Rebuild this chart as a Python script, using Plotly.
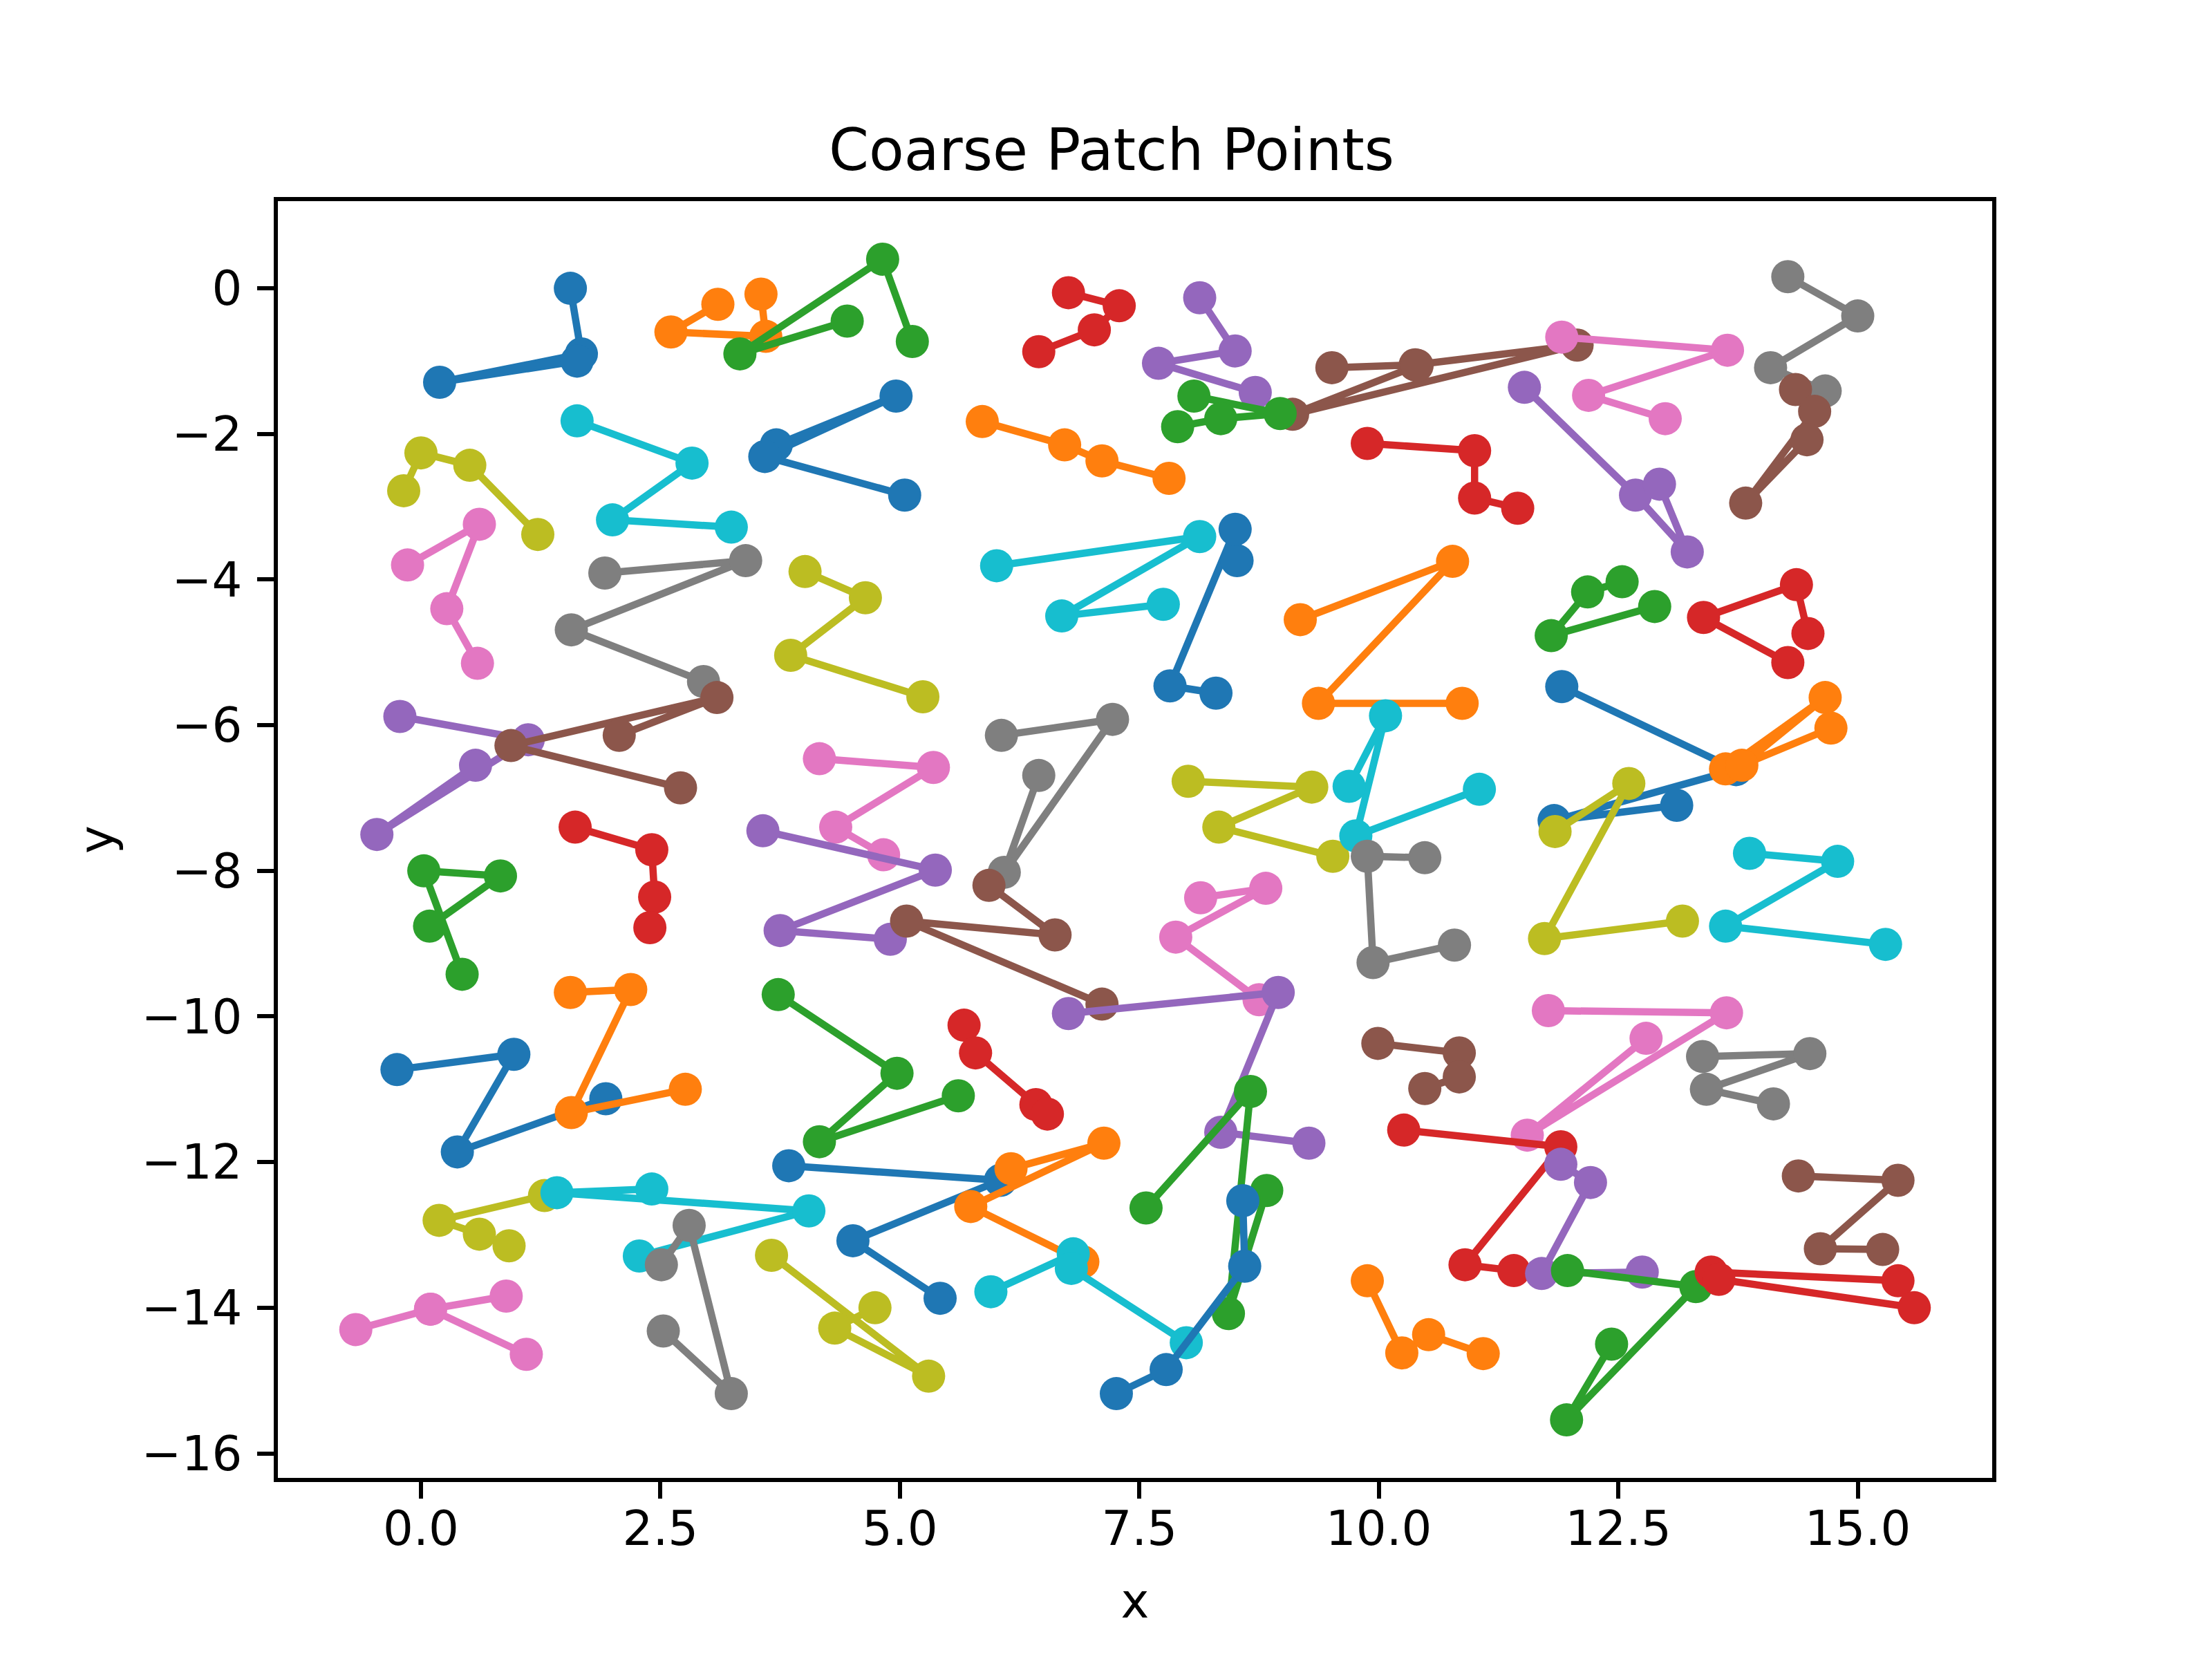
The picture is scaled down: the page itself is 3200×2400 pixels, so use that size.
import plotly.graph_objects as go

# each row of the 8x8 patch grid, one list of points per patch (left to right)
row1_x = [[1.56, 1.675, 0.195, 1.63], [3.10, 2.61, 3.60, 3.55], [5.13, 4.82, 3.33, 4.45],
          [6.76, 7.29, 7.03, 6.45], [8.13, 8.50, 7.70, 8.71], [9.51, 10.38, 12.07, 9.10, 10.40],
          [11.91, 13.64, 12.19, 12.99], [14.27, 15.0, 14.09, 14.66]]
row1_y = [[0.0, -0.90, -1.29, -1.00], [-0.22, -0.60, -0.66, -0.08], [-0.73, 0.40, -0.90, -0.45],
          [-0.06, -0.24, -0.57, -0.87], [-0.13, -0.86, -1.03, -1.43], [-1.09, -1.05, -0.78, -1.73, -1.06],
          [-0.67, -0.85, -1.47, -1.79], [0.16, -0.38, -1.09, -1.41]]

row2_x = [[-0.18, 0.0, 0.51, 1.22], [1.63, 2.83, 2.0, 3.24], [3.71, 4.96, 3.59, 5.05],
          [5.86, 6.72, 7.11, 7.81], [8.07, 8.97, 8.35, 7.90], [9.88, 11.0, 11.0, 11.45],
          [11.52, 12.68, 13.22, 12.93], [14.35, 14.55, 13.83, 14.47]]
row2_y = [[-2.78, -2.26, -2.43, -3.38], [-1.82, -2.40, -3.18, -3.28], [-2.15, -1.48, -2.31, -2.84],
          [-1.83, -2.15, -2.37, -2.61], [-1.48, -1.72, -1.79, -1.90], [-2.13, -2.23, -2.88, -3.02],
          [-1.36, -2.84, -3.62, -2.69], [-1.39, -1.69, -2.95, -2.08]]

row3_x = [[-0.14, 0.61, 0.27, 0.59], [1.92, 3.39, 1.57, 2.95], [4.01, 4.64, 3.86, 5.24],
          [6.01, 8.13, 6.69, 7.75], [8.52, 8.50, 7.82, 8.30], [9.18, 10.77, 9.37, 10.87],
          [12.54, 12.18, 11.80, 12.88], [14.48, 14.36, 13.39, 14.27]]
row3_y = [[-3.80, -3.24, -4.40, -5.15], [-3.91, -3.74, -4.69, -5.40], [-3.89, -4.25, -5.04, -5.61],
          [-3.81, -3.41, -4.50, -4.34], [-3.74, -3.31, -5.46, -5.56], [-4.55, -3.75, -5.70, -5.70],
          [-4.03, -4.17, -4.77, -4.37], [-4.74, -4.07, -4.52, -5.14]]

row4_x = [[-0.22, 1.12, -0.46, 0.57], [2.07, 3.09, 0.94, 2.71], [4.16, 5.35, 4.33, 4.83],
          [6.06, 7.22, 6.09, 6.45], [8.01, 9.30, 8.33, 9.52], [9.69, 10.07, 9.76, 11.05],
          [11.91, 13.73, 11.83, 13.11], [13.62, 14.66, 13.79, 14.72]]
row4_y = [[-5.88, -6.20, -7.50, -6.55], [-6.14, -5.62, -6.28, -6.86], [-6.46, -6.58, -7.40, -7.78],
          [-6.14, -5.92, -8.02, -6.69], [-6.77, -6.85, -7.40, -7.80], [-6.84, -5.87, -7.52, -6.88],
          [-5.47, -6.61, -7.31, -7.10], [-6.60, -5.62, -6.55, -6.04]]

row5_x = [[0.09, 0.83, 0.03, 0.43], [1.61, 2.41, 2.44, 2.39], [3.57, 5.37, 3.75, 4.90],
          [5.93, 6.62, 5.07, 7.11], [8.14, 8.82, 7.88, 8.75], [10.48, 9.88, 9.94, 10.79],
          [11.84, 12.61, 11.73, 13.17], [13.87, 14.79, 13.62, 15.29]]
row5_y = [[-8.76, -8.07, -8.0, -9.42], [-7.40, -7.71, -8.36, -8.78], [-7.45, -7.99, -8.82, -8.94],
          [-8.20, -8.88, -8.69, -9.83], [-8.37, -8.24, -8.91, -9.77], [-7.82, -7.80, -9.26, -9.02],
          [-7.46, -6.80, -8.93, -8.69], [-7.76, -7.87, -8.76, -9.01]]

row6_x = [[-0.25, 0.97, 0.38, 1.93], [1.56, 2.19, 1.57, 2.76], [3.73, 4.97, 4.16, 5.61],
          [5.67, 5.79, 6.42, 6.54], [6.76, 8.95, 8.35, 9.27], [9.99, 10.84, 10.84, 10.48],
          [11.77, 13.63, 11.55, 12.79], [13.38, 14.50, 13.42, 14.12]]
row6_y = [[-10.73, -10.52, -11.86, -11.13], [-9.67, -9.63, -11.32, -11.0], [-9.70, -10.78, -11.72, -11.09],
          [-10.12, -10.50, -11.21, -11.34], [-9.96, -9.67, -11.59, -11.74], [-10.37, -10.50, -10.83, -10.99],
          [-9.92, -9.95, -11.63, -10.30], [-10.55, -10.51, -11.0, -11.20]]

row7_x = [[1.29, 0.19, 0.61, 0.92], [2.41, 1.42, 4.05, 2.28], [3.84, 6.05, 4.51, 5.42],
          [6.16, 7.13, 5.74, 6.91], [7.57, 8.66, 8.43, 8.83], [10.26, 11.90, 10.90, 11.41],
          [11.90, 12.21, 11.70, 12.75], [14.38, 15.42, 14.61, 15.26]]
row7_y = [[-12.46, -12.80, -12.99, -13.15], [-12.37, -12.42, -12.67, -13.29], [-12.05, -12.25, -13.08, -13.87],
          [-12.09, -11.74, -12.61, -13.37], [-12.63, -11.03, -14.08, -12.39], [-11.56, -11.79, -13.41, -13.49],
          [-12.03, -12.28, -13.53, -13.51], [-12.19, -12.25, -13.19, -13.20]]

row8_x = [[-0.68, 0.10, 0.89, 0.10, 1.10], [2.51, 2.80, 3.24, 2.53], [3.66, 5.30, 4.32, 4.74],
          [5.95, 6.81, 6.79, 7.99], [8.58, 8.60, 7.78, 7.26], [9.88, 10.24, 10.52, 11.09],
          [11.97, 13.31, 11.96, 12.43], [15.42, 13.47, 13.55, 15.59]]
row8_y = [[-14.30, -14.02, -13.84, -14.02, -14.64], [-13.41, -12.87, -15.18, -14.32], [-13.28, -14.94, -14.28, -14.0],
          [-13.78, -13.26, -13.46, -14.48], [-12.53, -13.43, -14.85, -15.18], [-13.63, -14.62, -14.37, -14.63],
          [-13.49, -13.71, -15.54, -14.50], [-13.63, -13.51, -13.61, -14.0]]

rows_x = [row1_x, row2_x, row3_x, row4_x, row5_x, row6_x, row7_x, row8_x]
rows_y = [row1_y, row2_y, row3_y, row4_y, row5_y, row6_y, row7_y, row8_y]

tab10 = ['#1f77b4', '#ff7f0e', '#2ca02c', '#d62728', '#9467bd',
         '#8c564b', '#e377c2', '#7f7f7f', '#bcbd22', '#17becf']

fig = go.Figure()
k = 0
all_x, all_y = [], []
for rx, ry in zip(rows_x, rows_y):
    for px, py in zip(rx, ry):
        c = tab10[k % 10]
        fig.add_trace(go.Scatter(x=px, y=py, mode='lines+markers',
            line=dict(color=c, width=10.5),
            marker=dict(color=c, size=48),
            showlegend=False))
        all_x += px
        all_y += py
        k += 1

# matplotlib style 5% margins
xmin, xmax = min(all_x), max(all_x)
ymin, ymax = min(all_y), max(all_y)
dx = 0.05 * (xmax - xmin)
dy = 0.05 * (ymax - ymin)

font = dict(family='DejaVu Sans', size=69, color='black')
axis_style = dict(showgrid=False, zeroline=False, showline=True, mirror=True,
    linecolor='black', linewidth=5.5, ticks='outside', ticklen=24, tickwidth=5.5,
    tickcolor='black', tickfont=font)

fig.update_xaxes(range=[xmin - dx, xmax + dx], tickvals=[0, 2.5, 5, 7.5, 10, 12.5, 15],
    tickformat='.1f', ticklabelstandoff=-16,
    title=dict(text='x', font=font, standoff=44), **axis_style)
fig.update_yaxes(range=[ymin - dy, ymax + dy], tickvals=list(range(0, -17, -2)),
    ticklabelstandoff=8,
    title=dict(text='y', font=font, standoff=20), **axis_style)

# the page body adds an 8px offset, so pull the margins in by that much
fig.update_layout(width=3200, height=2400,
    margin=dict(l=394, r=326, t=283, b=270),
    paper_bgcolor='white', plot_bgcolor='white',
    title=dict(text='Coarse Patch Points', x=0.5, xanchor='center',
        y=0.901, yanchor='bottom', font=dict(family='DejaVu Sans', size=83, color='black')))

fig.write_html('out.html')
